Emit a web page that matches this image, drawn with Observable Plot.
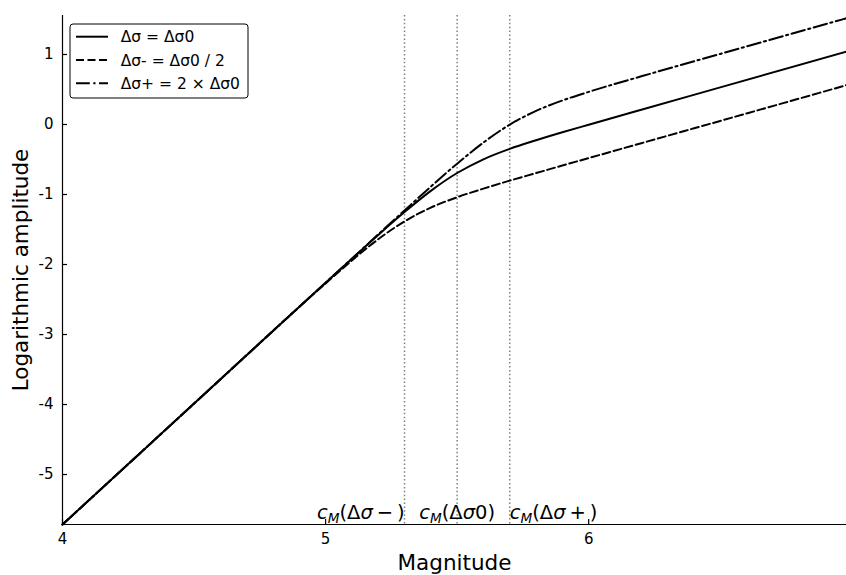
<!DOCTYPE html>
<html>
<head>
<meta charset="utf-8">
<script src="https://cdn.jsdelivr.net/npm/d3@7"></script>
<script src="https://cdn.jsdelivr.net/npm/@observablehq/plot@0.6"></script>
<style>
  html, body { margin: 0; padding: 0; background: #fff; }
  #chart { width: 846px; height: 575px; }
</style>
</head>
<body>
<div id="chart"></div>
<script>
// Magnitude samples and log amplitude for the three stress-drop cases
const magnitude = [4.0, 4.5, 5.0, 5.1, 5.2, 5.3, 5.4, 5.5, 5.6, 5.7, 5.8, 5.9, 6.0, 6.2, 6.5, 6.98];
const ampRef  = [-5.714, -3.987, -2.261, -1.919, -1.579, -1.251, -0.948, -0.693, -0.497, -0.348, -0.225, -0.111, -0.003, 0.211, 0.530, 1.040];
const ampLow  = [-5.714, -3.987, -2.270, -1.942, -1.639, -1.384, -1.187, -1.039, -0.916, -0.802, -0.694, -0.586, -0.480, -0.267, 0.051, 0.562];
const ampHigh = [-5.714, -3.987, -2.260, -1.916, -1.570, -1.228, -0.888, -0.560, -0.258, -0.002, 0.194, 0.343, 0.466, 0.688, 1.008, 1.518];

// Hinge magnitudes c_M for each case
const cornerMagnitudes = [5.3, 5.5, 5.7];
const cornerTags = ["−", "0", "+"];

const seriesNames = ["Δσ = Δσ0", "Δσ- = Δσ0 / 2", "Δσ+ = 2 × Δσ0"];
const xTicks = [4, 5, 6];
const yTicks = [-5, -4, -3, -2, -1, 0, 1];
const xDomain = [4, 6.98];
const yDomain = [-5.714, 1.557];

const dashPatterns = [null, "8,3.5", "13.8,3.5,2.2,3.5"];
const curveWidth = 2;
const series = [ampRef, ampLow, ampHigh];
const anchors = ["end", "middle", "start"];

const plot = Plot.plot({
  width: 846,
  height: 575,
  marginLeft: 62,
  marginRight: 0,
  marginTop: 15,
  marginBottom: 51,
  x: { domain: xDomain },
  y: { domain: yDomain },
  style: { fontFamily: "'DejaVu Sans', sans-serif", fontSize: "15px", background: "#fff", color: "#000" },
  marks: [
    Plot.ruleX(cornerMagnitudes, { stroke: "#808080", strokeWidth: 1.5, strokeDasharray: "1.5,2.4" }),
    ...series.map((amp, i) => Plot.lineY(amp, {
      x: magnitude,
      stroke: "#000",
      strokeWidth: curveWidth,
      strokeDasharray: dashPatterns[i],
      curve: "monotone-x"
    })),
    Plot.ruleX([xDomain[0]], { stroke: "#000", strokeWidth: 1.2 }),
    Plot.ruleY([yDomain[0]], { stroke: "#000", strokeWidth: 1.2 }),
    Plot.axisX({ ticks: xTicks, tickSize: -5, tickPadding: 14, label: null, tickFormat: d => String(d), strokeWidth: 1.2 }),
    Plot.axisY({ ticks: yTicks, tickSize: -5, tickPadding: 14, label: null, tickFormat: d => String(d), strokeWidth: 1.2 }),
    Plot.text(["Magnitude"], { text: d => d, frameAnchor: "bottom", lineAnchor: "bottom", textAnchor: "middle", dy: 45.5, fontSize: 21.5 }),
    Plot.text(["Logarithmic amplitude"], { text: d => d, frameAnchor: "left", textAnchor: "middle", lineAnchor: "middle", rotate: -90, dx: -41, fontSize: 21.5 }),
    ...cornerMagnitudes.map((m, i) => Plot.text([m], {
      x: d => d,
      frameAnchor: "bottom",
      text: () => `cM(Δσ${cornerTags[i]})`,
      textAnchor: anchors[i],
      lineAnchor: "bottom",
      dy: -6,
      fontSize: 19.5
    }))
  ]
});

document.getElementById("chart").appendChild(plot);

// Math-style corner labels: italic c with subscript M, italic sigma
const svg = d3.select(plot);
svg.selectAll("text")
  .filter(function () { return this.textContent.startsWith("cM(Δσ"); })
  .each(function () {
    const t = d3.select(this);
    const tag = this.textContent.slice(5, -1);
    t.text(null);
    t.append("tspan").attr("font-style", "italic").text("c");
    t.append("tspan").attr("font-style", "italic").attr("font-size", "13.6px").attr("dy", 4).text("M");
    t.append("tspan").attr("dy", -4).text("(Δ");
    t.append("tspan").attr("font-style", "italic").text("σ");
    t.append("tspan").text(tag === "0" ? "0)" : `\u2009${tag}\u2009)`);
  });

// Legend box in the upper-left corner of the frame
const legend = svg.append("g").attr("text-anchor", "start");
const lx = 70, ly = 24, rowGap = 23.3;
legend.append("rect")
  .attr("x", lx).attr("y", ly).attr("width", 178).attr("height", 74)
  .attr("rx", 3).attr("fill", "#fff").attr("stroke", "#000").attr("stroke-width", 1);
seriesNames.forEach((name, i) => {
  const y = ly + 12.7 + i * rowGap;
  legend.append("line")
    .attr("x1", lx + 6).attr("x2", lx + 38).attr("y1", y).attr("y2", y)
    .attr("stroke", "#000").attr("stroke-width", curveWidth)
    .attr("stroke-dasharray", dashPatterns[i]);
  legend.append("text")
    .attr("x", lx + 50.7).attr("y", y).attr("dy", "0.36em")
    .attr("text-anchor", "start")
    .attr("font-size", "15.5px").text(name);
});
</script>
</body>
</html>
